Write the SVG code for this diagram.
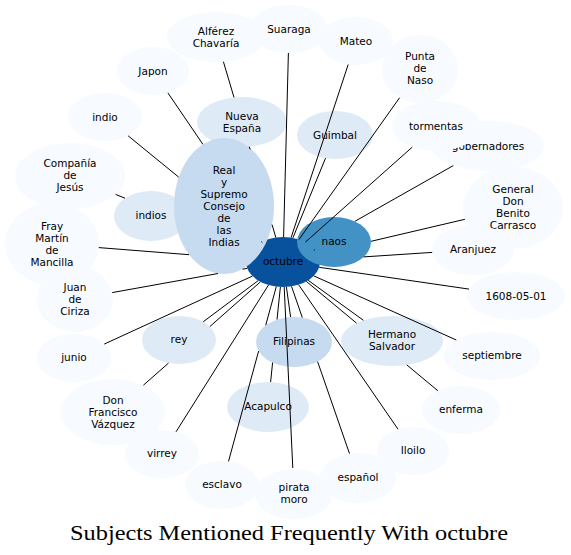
<svg xmlns="http://www.w3.org/2000/svg" width="571" height="555" viewBox="0 0 571 555">
<style>
.n0{fill:#f7fbff}.n1{fill:#deebf7}.n2{fill:#c6dbef}.n4{fill:#4292c6}.n6{fill:#08519c}
text{font-family:"DejaVu Sans","Noto Sans",sans-serif;font-size:10.5px;fill:#000;text-anchor:middle}
.e{stroke:#000;stroke-width:1;fill:none}
.title{font-family:"Liberation Serif","DejaVu Serif",serif;font-size:21px}
</style>
<rect width="571" height="555" fill="#fff"/>
<g id="nodes">
<g id="n-alferez"><ellipse class="n0" cx="216" cy="37" rx="49" ry="25"/><text x="216" y="34.7">Alférez</text><text x="216" y="46.7">Chavaría</text></g>
<g id="n-suaraga"><ellipse class="n0" cx="289" cy="29" rx="39" ry="24"/><text x="289" y="32.5">Suaraga</text></g>
<g id="n-mateo"><ellipse class="n0" cx="356" cy="41" rx="37" ry="24"/><text x="356" y="44.5">Mateo</text></g>
<g id="n-punta"><ellipse class="n0" cx="420" cy="69" rx="38" ry="34"/><text x="420" y="60.3">Punta</text><text x="420" y="72.3">de</text><text x="420" y="84.3">Naso</text></g>
<g id="n-japon"><ellipse class="n0" cx="153" cy="71" rx="36" ry="24"/><text x="153" y="74.5">Japon</text></g>
<g id="n-indio"><ellipse class="n0" cx="105" cy="117" rx="37" ry="24"/><text x="105" y="120.5">indio</text></g>
<g id="n-nueva"><ellipse class="n1" cx="242" cy="122" rx="45" ry="25"/><text x="242" y="119.5">Nueva</text><text x="242" y="131.5">España</text></g>
<g id="n-guimbal"><ellipse class="n1" cx="335" cy="135" rx="38" ry="24"/><text x="335" y="138.5">Guimbal</text></g>
<g id="n-gobernadores"><ellipse class="n0" cx="488" cy="146" rx="56" ry="25"/><text x="488" y="149.5">gobernadores</text></g>
<g id="n-tormentas"><ellipse class="n0" cx="436" cy="126" rx="44" ry="25"/><text x="436" y="129.5">tormentas</text></g>
<g id="n-compania"><ellipse class="n0" cx="70" cy="176" rx="55" ry="33"/><text x="70" y="167">Compañía</text><text x="70" y="179">de</text><text x="70" y="191">Jesús</text></g>
<g id="n-indios"><ellipse class="n1" cx="151" cy="216" rx="37" ry="25"/><text x="151" y="219">indios</text></g>
<g id="n-general"><ellipse class="n0" cx="513" cy="208" rx="50" ry="41"/><text x="513" y="192.8">General</text><text x="513" y="204.8">Don</text><text x="513" y="216.8">Benito</text><text x="513" y="228.8">Carrasco</text></g>
<g id="n-aranjuez"><ellipse class="n0" cx="473" cy="250" rx="41" ry="25"/><text x="473" y="253.3">Aranjuez</text></g>
<g id="n-fray"><ellipse class="n0" cx="52" cy="244" rx="47" ry="41"/><text x="52" y="230">Fray</text><text x="52" y="242">Martín</text><text x="52" y="254">de</text><text x="52" y="266">Mancilla</text></g>
<g id="n-juan"><ellipse class="n0" cx="75" cy="299" rx="38" ry="33"/><text x="75" y="290.7">Juan</text><text x="75" y="302.7">de</text><text x="75" y="314.7">Ciriza</text></g>
<g id="n-1608"><ellipse class="n0" cx="516" cy="296" rx="49" ry="24"/><text x="516" y="299.5">1608-05-01</text></g>
<g id="n-octubre"><ellipse class="n6" cx="283" cy="262" rx="37" ry="25"/><text x="283" y="265.3">octubre</text></g>
<g id="n-real"><ellipse class="n2" cx="224" cy="206" rx="50" ry="68"/><text x="224" y="173.5">Real</text><text x="224" y="185.5">y</text><text x="224" y="197.5">Supremo</text><text x="224" y="209.5">Consejo</text><text x="224" y="221.5">de</text><text x="224" y="233.5">las</text><text x="224" y="245.5">Indias</text></g>
<g id="n-naos"><ellipse class="n4" cx="334" cy="242" rx="37" ry="25"/><text x="334" y="244.8">naos</text></g>
<g id="n-rey"><ellipse class="n1" cx="179" cy="340" rx="37" ry="24"/><text x="179" y="343.3">rey</text></g>
<g id="n-filipinas"><ellipse class="n2" cx="294" cy="342" rx="38" ry="25"/><text x="294" y="345.3">Filipinas</text></g>
<g id="n-hermano"><ellipse class="n1" cx="392" cy="341" rx="51" ry="25"/><text x="392" y="338">Hermano</text><text x="392" y="350">Salvador</text></g>
<g id="n-septiembre"><ellipse class="n0" cx="492" cy="356" rx="48" ry="24"/><text x="492" y="359">septiembre</text></g>
<g id="n-junio"><ellipse class="n0" cx="74" cy="358" rx="37" ry="24"/><text x="74" y="361.3">junio</text></g>
<g id="n-acapulco"><ellipse class="n1" cx="268" cy="407" rx="41" ry="25"/><text x="268" y="409.8">Acapulco</text></g>
<g id="n-enferma"><ellipse class="n0" cx="461" cy="410" rx="39" ry="24"/><text x="461" y="413">enferma</text></g>
<g id="n-don"><ellipse class="n0" cx="113" cy="412" rx="52" ry="33"/><text x="113" y="403.5">Don</text><text x="113" y="415.5">Francisco</text><text x="113" y="427.5">Vázquez</text></g>
<g id="n-iloilo"><ellipse class="n0" cx="413" cy="451" rx="36" ry="24"/><text x="413" y="454">Iloilo</text></g>
<g id="n-virrey"><ellipse class="n0" cx="162" cy="454" rx="37" ry="24"/><text x="162" y="457.3">virrey</text></g>
<g id="n-espanol"><ellipse class="n0" cx="358" cy="478" rx="38" ry="25"/><text x="358" y="481.3">español</text></g>
<g id="n-esclavo"><ellipse class="n0" cx="222" cy="485" rx="37" ry="24"/><text x="222" y="488">esclavo</text></g>
<g id="n-pirata"><ellipse class="n0" cx="294" cy="494" rx="39" ry="25"/><text x="294" y="491">pirata</text><text x="294" y="503">moro</text></g>
</g>
<g id="connectors">
<path class="e" d="M283.6,237L288.4,53"/>
<path class="e" d="M291.1,237.6L348.2,64.5"/>
<path class="e" d="M292.9,237.9L325.5,158.2"/>
<path class="e" d="M299,239.5L399.6,97.7"/>
<path class="e" d="M305.4,242.1L412.3,147.1"/>
<path class="e" d="M354.9,221.3L453.3,165.6"/>
<path class="e" d="M371,241.3L464.9,219.3"/>
<path class="e" d="M363.7,256.9L432.2,252.4"/>
<path class="e" d="M319.2,267.3L469,289.1"/>
<path class="e" d="M313.8,275.9L456.3,340"/>
<path class="e" d="M308.2,280.3L363.4,320.3"/>
<path class="e" d="M306.3,281.4L356.5,323.1M406.8,364.9L437.8,390.7"/>
<path class="e" d="M298.6,284.7L398,429.2"/>
<path class="e" d="M291.5,286.3L302.3,317.6M317.6,361.6L349.5,453.6"/>
<path class="e" d="M284.2,287L292.8,468"/>
<path class="e" d="M276.3,286.6L265.7,325.3M258.6,351.1L228.5,461.4"/>
<path class="e" d="M280.4,286.9L277,319.6M272.6,362.6L270.6,382"/>
<path class="e" d="M286.4,286.9L290.6,317.1"/>
<path class="e" d="M268.5,285L176,431.8"/>
<path class="e" d="M260.5,281.8L209.8,326.6M168.5,363.1L143.4,385.2"/>
<path class="e" d="M258.2,280.6L203.2,321.8"/>
<path class="e" d="M252.4,276.1L104.2,344.1"/>
<path class="e" d="M247.2,268.4L242.5,269.2M218.1,273.5L112.2,292.6"/>
<path class="e" d="M189.1,254.7L98.8,247.6"/>
<path class="e" d="M125,198.2L115.6,194.4"/>
<path class="e" d="M178.7,177.1L128.1,135.8"/>
<path class="e" d="M202.9,144.3L167.9,92.9"/>
<path class="e" d="M234,97.4L223.4,61.7"/>
<path class="e" d="M275.8,237.5L272.1,224.7M250.3,149.4L249.2,146.7"/>
<path class="e" d="M261.3,241.6L262.4,242.6"/>
<path class="e" d="M313.8,250.2L314.8,249.8"/>
</g>
<text class="title" x="289" y="540" textLength="438" lengthAdjust="spacingAndGlyphs">Subjects Mentioned Frequently With octubre</text>
</svg>
